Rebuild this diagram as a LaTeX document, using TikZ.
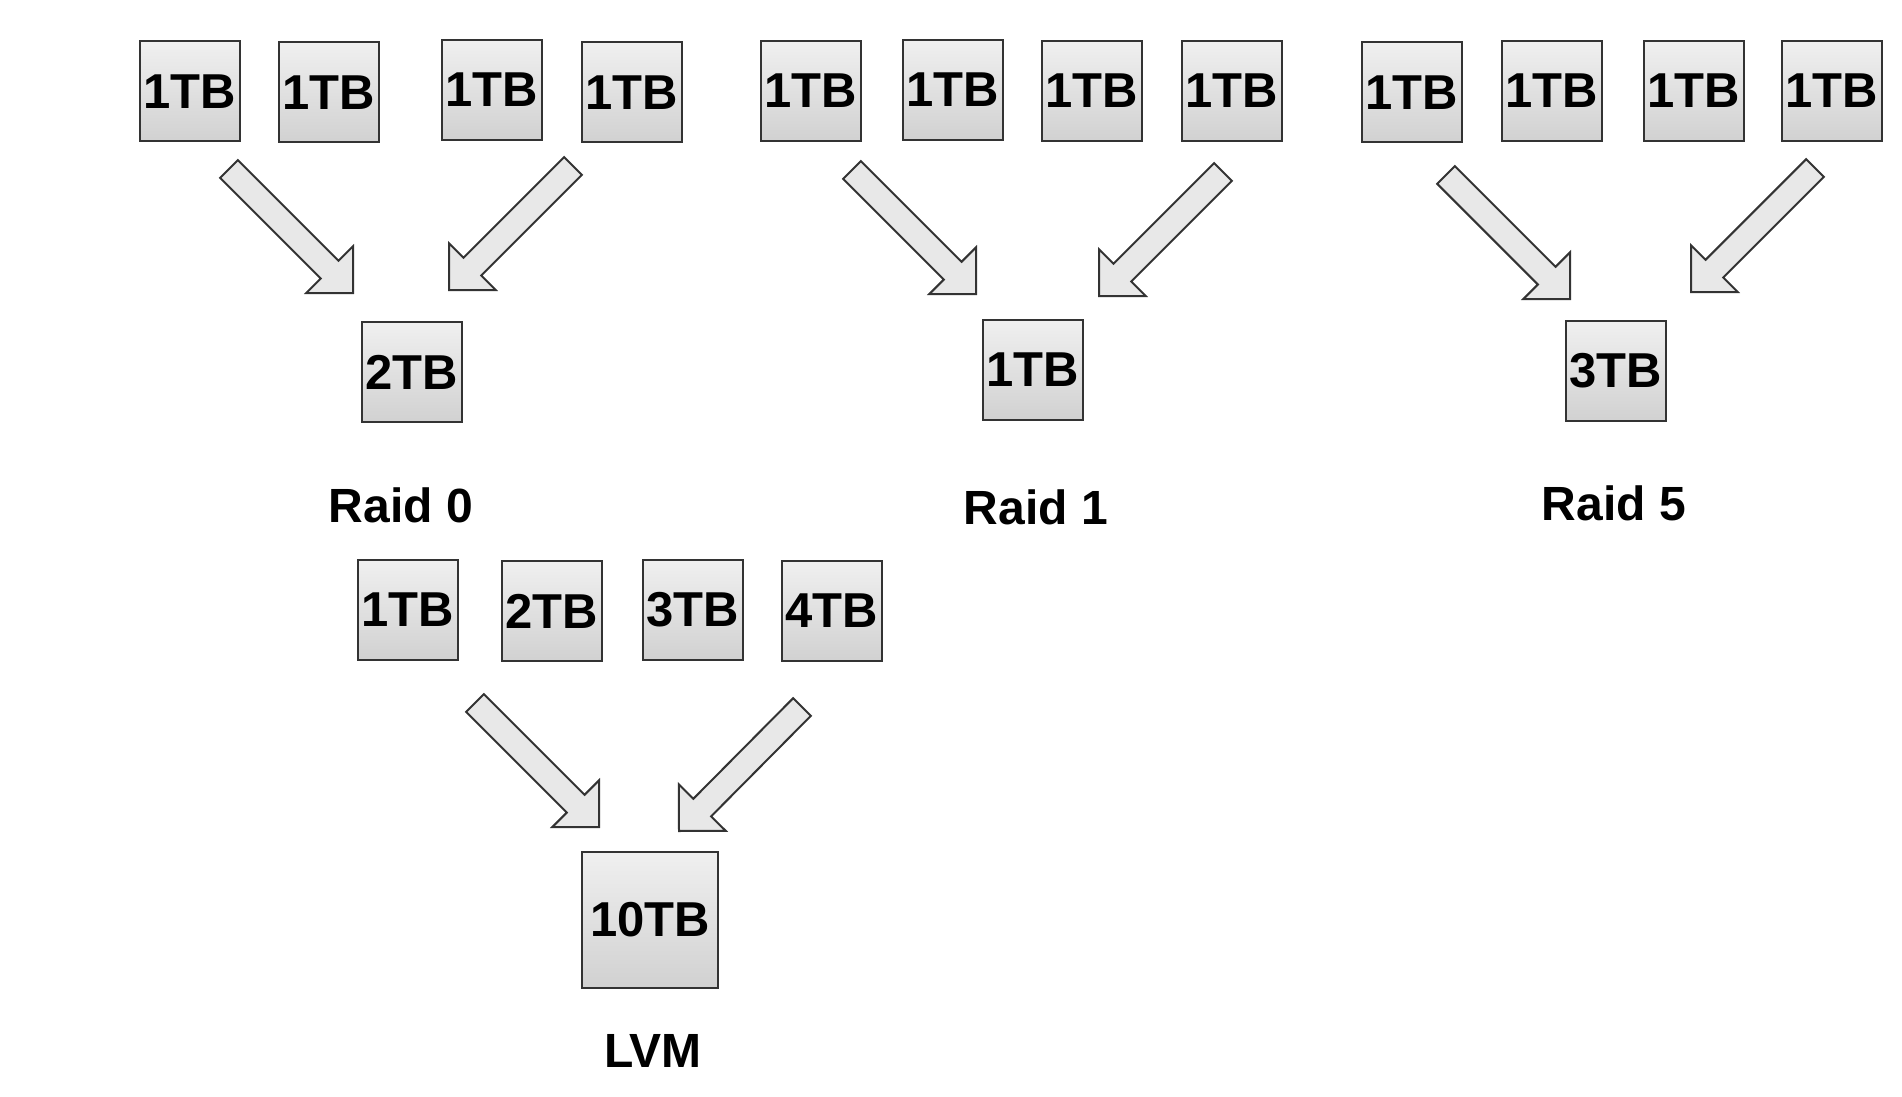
\documentclass[tikz,border=0pt]{standalone}
\usepackage{fontspec}
\setmainfont{Liberation Sans}
\usetikzlibrary{calc}

\tikzset{
  disk/.style={draw=black!80, line width=1pt, top color=gray!12, bottom color=gray!36,
    minimum size=50pt, inner sep=0pt, font=\bfseries\fontsize{24.5}{28}\selectfont},
  bigdisk/.style={disk, minimum size=68pt},
  raidname/.style={inner sep=0pt, font=\bfseries\fontsize{24}{28}\selectfont},
  fatarrow/.style={draw=black!80, line width=1pt, fill=gray!18, line join=miter}
}

% fat arrow from tail #1 to tip #2
\newcommand{\blockarrow}[2]{%
  \coordinate (neck) at ($(#2)!16.5pt!(#1)$);
  \draw[fatarrow] ($(#1)!6.25pt!90:(#2)$) -- ($(neck)!6.25pt!90:(#2)$)
    -- ($(neck)!16.5pt!90:(#2)$) -- (#2) -- ($(neck)!16.5pt!-90:(#2)$)
    -- ($(neck)!6.25pt!-90:(#2)$) -- ($(#1)!6.25pt!-90:(#2)$) -- cycle;
}

\begin{document}
\begin{tikzpicture}[x=0.5pt, y=-0.5pt]

\useasboundingbox (0,0) rectangle (1902,1097);

% Raid 0
\node[disk] (a1) at (189.5,91.5) {1TB};
\node[disk] (a2) at (329,92.5) {1TB};
\node[disk] (a3) at (491.5,90) {1TB};
\node[disk] (a4) at (632,92.5) {1TB};
\node[disk] (araid) at (412,372) {2TB};
\node[raidname] (alabel) at (401,505.5) {Raid 0};

% Raid 1
\node[disk] (b1) at (810.5,91) {1TB};
\node[disk] (b2) at (952.5,90) {1TB};
\node[disk] (b3) at (1092,91) {1TB};
\node[disk] (b4) at (1231.5,91) {1TB};
\node[disk] (braid) at (1033,370) {1TB};
\node[raidname] (blabel) at (1036,507) {Raid 1};

% Raid 5
\node[disk] (c1) at (1412,92.5) {1TB};
\node[disk] (c2) at (1552,91) {1TB};
\node[disk] (c3) at (1693.5,91) {1TB};
\node[disk] (c4) at (1832,91) {1TB};
\node[disk] (craid) at (1616,371) {3TB};
\node[raidname] (clabel) at (1614,503) {Raid 5};

% LVM
\node[disk] (l1) at (408,610) {1TB};
\node[disk] (l2) at (552,611) {2TB};
\node[disk] (l3) at (693,610) {3TB};
\node[disk] (l4) at (832,611) {4TB};
\node[bigdisk] (lvol) at (650,919.5) {10TB};
\node[raidname] (llabel) at (653,1050.5) {LVM};

% arrow ends
\coordinate (at1) at (229,169);  \coordinate (ah1) at (353,293);
\coordinate (at2) at (573,166);  \coordinate (ah2) at (449,290);
\coordinate (bt1) at (852,170);  \coordinate (bh1) at (976,294);
\coordinate (bt2) at (1223,172); \coordinate (bh2) at (1099,296);
\coordinate (ct1) at (1446,175); \coordinate (ch1) at (1570,299);
\coordinate (ct2) at (1815,168); \coordinate (ch2) at (1691,292);
\coordinate (lt1) at (475,703);  \coordinate (lh1) at (599,827);
\coordinate (lt2) at (802,707);  \coordinate (lh2) at (679,831);

\blockarrow{at1}{ah1}
\blockarrow{at2}{ah2}
\blockarrow{bt1}{bh1}
\blockarrow{bt2}{bh2}
\blockarrow{ct1}{ch1}
\blockarrow{ct2}{ch2}
\blockarrow{lt1}{lh1}
\blockarrow{lt2}{lh2}

\end{tikzpicture}
\end{document}
